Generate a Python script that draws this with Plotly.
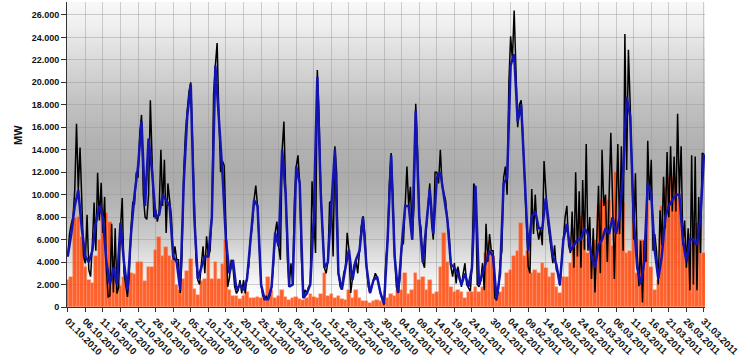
import pandas as pd
import plotly.graph_objects as go

START = "2010-10-01"

# Black series: two readings per day (00:00 and 12:00), MW, 01.10.2010 - 31.03.2011
black_mw = [
    4500, 6500, 7400, 8000, 10400, 16300, 10400, 14200, 9500, 4500,
    3900, 8200, 3300, 2700, 5500, 9300, 5000, 11950, 7700, 11050,
    6600, 9800, 3300, 900, 1000, 7400, 1300, 7000, 1200, 1800,
    7000, 9700, 3000, 1800, 900, 2800, 7000, 9300, 9200, 12000,
    11500, 15500, 17100, 10000, 8000, 7800, 10000, 18400, 13000, 8000,
    8700, 7600, 8500, 14000, 9000, 13100, 6600, 11000, 9500, 8000,
    4200, 5400, 4200, 4200, 1250, 4500, 12000, 15500, 17500, 19200,
    20000, 14000, 7800, 4200, 2400, 2000, 3800, 5400, 3000, 6300,
    4500, 5000, 8200, 19000, 21500, 23500, 17000, 12000, 13000, 12600,
    7200, 1800, 2600, 4200, 3600, 1800, 1200, 1500, 2400, 1200,
    2400, 1200, 2700, 3600, 6000, 7200, 9550, 10800, 8960, 6000,
    2000, 1000, 650, 1000, 650, 1000, 1800, 3600, 6600, 7600,
    5400, 4200, 14000, 16500, 10000, 4200, 1800, 3900, 2000, 9550,
    12500, 13500, 11000, 4200, 800, 1540, 1200, 1800, 2000, 11200,
    8000, 4800, 21100, 17000, 10000, 6000, 3500, 3000, 4000, 9300,
    9400, 4500, 14300, 12000, 3000, 1800, 1550, 3000, 3500, 6600,
    5100, 1250, 2400, 3800, 4200, 3000, 5000, 7200, 8100, 6500,
    3600, 1800, 1250, 1800, 2400, 3000, 2700, 1800, 1200, 650,
    200, 4200, 6000, 11000, 13700, 10000, 4500, 1800, 1250, 2500,
    5400, 5700, 9000, 12500, 9000, 10700, 6000, 9000, 18100, 14000,
    8000, 7000, 4000, 3500, 7000, 9000, 11000, 7500, 6000, 12000,
    12000, 11000, 14000, 10800, 10100, 9500, 7700, 6500, 3600, 2700,
    3900, 2100, 3600, 2500, 1800, 3000, 3900, 2000, 1700, 1400,
    3500, 11000, 10500, 2000, 1800, 2300, 3900, 1500, 7400, 4000,
    6500, 5000, 5000, 800, 600, 1500, 4000, 5000, 11500, 12500,
    10000, 20000, 24100, 22000, 26400, 20000, 16000, 18000, 18400, 15000,
    11000, 7200, 3600, 3000, 10500, 6500, 10000, 7000, 6000, 7000,
    5500, 13000, 10000, 7800, 6500, 5100, 3900, 5500, 3300, 3000,
    1900, 4000, 6500, 8000, 9000, 5500, 4800, 8500, 3500, 12000,
    4500, 10300, 3500, 11300, 5100, 14500, 5000, 8000, 2500, 7000,
    1300, 5500, 10800, 3000, 14000, 9000, 10000, 4000, 9000, 15500,
    9500, 2500, 9000, 14500, 6500, 14300, 5000, 24300, 12200, 22900,
    18100, 13100, 6000, 11900, 4800, 1840, 5900, 400, 5900, 4000,
    14800, 9500, 13100, 5000, 6500, 5000, 2000, 8600, 5500, 11600,
    7000, 13800, 8000, 14300, 8500, 13400, 8500, 17200, 10000, 14300,
    5500, 7700, 3500, 7000, 1500, 13500, 2000, 13400, 1500, 9800,
    4800, 13700, 13600,
]

# Blue series: one reading per day, MW
blue_mw = [
    4500, 6500, 9000, 10400, 7000, 4500, 4000, 5000, 7500, 9000,
    8000, 4000, 2000, 3500, 2000, 7500, 4000, 1500, 6500, 10000,
    12500, 16500, 9000, 15000, 12000, 8000, 8200, 10000, 9500, 9000,
    4500, 4000, 1500, 11000, 17000, 19800, 8000, 2500, 3500, 4500,
    4500, 8000, 21500, 17000, 12000, 6000, 3000, 4200, 1500, 2000,
    1500, 2500, 6000, 9500, 9000, 2000, 700, 700, 1800, 6600,
    5400, 14000, 10000, 1800, 2000, 12500, 11000, 800, 1200, 2000,
    8000, 20500, 10000, 3500, 4000, 9400, 14000, 3000, 1550, 3500,
    5100, 2400, 4200, 5000, 8000, 3600, 1250, 2400, 2700, 1200,
    300, 6000, 13500, 4500, 1250, 5400, 9000, 9000, 6000, 17500,
    8000, 4000, 7000, 10500, 6500, 11500, 12000, 10000, 7800, 3800,
    3500, 3000, 2000, 3000, 1800, 3500, 10800, 2000, 3000, 4000,
    5000, 4500, 700, 3000, 11000, 11500, 21500, 22500, 16500, 18000,
    11000, 5000, 8000, 8500, 7000, 7000, 9700, 7000, 4500, 3800,
    2000, 6000, 7400, 5000, 5500, 6000, 6000, 7000, 6500, 4500,
    3500, 5500, 6000, 7000, 6500, 8000, 6500, 8000, 12000, 18700,
    17000, 8000, 3500, 2000, 4000, 11000, 10000, 5000, 2500, 4500,
    8000, 9000, 9500, 10000, 10000, 6000, 4000, 6000, 6000, 5500,
    8000, 13600,
]

# Orange bars: one value per day, MW
orange_mw = [
    2400, 2700, 7900, 8000, 6200, 3600, 2400, 2100, 4500, 6000,
    8500, 8400, 7600, 4500, 3600, 1900, 2700, 2100, 3000, 2900,
    4000, 4000, 2300, 3600, 3600, 5100, 6200, 4500, 5300, 4500,
    4200, 2000, 1500, 2500, 3200, 4300, 1600, 1100, 2300, 2500,
    4800, 2500, 4000, 2500, 3800, 6000, 1500, 1000, 1000, 700,
    1000, 1300, 800, 800, 900, 800, 1000, 2700, 1500, 800,
    1000, 1500, 900, 600, 800, 900, 700, 600, 800, 1200,
    900, 800, 1200, 3000, 1000, 1200, 800, 1000, 700, 650,
    1500, 800, 1500, 800, 500, 500, 400, 500, 600, 500,
    400, 800, 1200, 1000, 1500, 1500, 3000, 1200, 1500, 3000,
    2400, 2700, 1500, 2400, 1200, 1300, 3600, 6580, 4000, 1800,
    1300, 1500, 1300, 800, 1300, 1300, 1800, 1300, 1800, 4800,
    5900, 4500, 650, 1300, 1800, 3000, 3300, 4500, 5000, 7500,
    4500, 5000, 3000, 3300, 3000, 3900, 3500, 2700, 3000, 1800,
    1240, 2700, 2700, 3900, 7000, 5400, 8060, 6000, 4800, 3900,
    6000, 9000, 9500, 9800, 9500, 5400, 12000, 7760, 9240, 4800,
    5000, 9500, 3000, 5980, 6000, 9240, 3600, 1540, 2400, 9000,
    10700, 11600, 11600, 11600, 10000, 6500, 5400, 6500, 8500, 7500,
    7500, 4800,
]

tick_dates = (
    list(pd.date_range("2010-10-01", "2011-01-24", freq="5D"))
    + [pd.Timestamp("2011-01-30")]
    + list(pd.date_range("2011-02-04", "2011-03-31", freq="5D"))
)
tick_labels = [d.strftime("%d.%m.%Y") for d in tick_dates]
y_ticks = list(range(0, 26001, 2000))

x_half = pd.date_range(START, periods=len(black_mw), freq="12h")
x_day = pd.date_range(START, periods=len(blue_mw), freq="D")

fig = go.Figure()
fig.add_trace(go.Scatter(x=x_half, y=black_mw, mode="lines",
                         line=dict(color="#000000", width=1.5), name="black"))
fig.add_trace(go.Scatter(x=x_day, y=blue_mw, mode="lines",
                         line=dict(color="#1414b0", width=2.5), name="blue"))
fig.add_trace(go.Bar(x=x_day, y=orange_mw, name="orange",
                     marker=dict(color="rgba(255,64,0,0.82)",
                                 line=dict(color="rgba(255,150,110,0.9)", width=0.5))))

# vertical background gradient (plot area pixel rows from top)
stops = [(0, 248), (25, 238), (60, 216), (100, 194), (140, 178), (175, 172),
         (205, 182), (235, 204), (260, 228), (280, 246), (295, 255), (305, 255)]
def shade(p):
    for (p0, c0), (p1, c1) in zip(stops[:-1], stops[1:]):
        if p0 <= p <= p1:
            return c0 + (c1 - c0) * (p - p0) / (p1 - p0)
    return stops[-1][1]

H = 305
shapes = []
step = 3
for p in range(0, H, step):
    c = int(round(shade(p + step / 2)))
    shapes.append(dict(type="rect", xref="x domain", yref="y domain",
                       x0=0, x1=1, y0=1 - (p + step) / H, y1=1 - p / H,
                       fillcolor=f"rgb({c},{c},{c})", line=dict(width=0),
                       layer="below"))

font_fam = "Liberation Sans, Arial, sans-serif"
x0 = pd.Timestamp(START) - pd.Timedelta(hours=5)
x1 = pd.Timestamp(START) + pd.Timedelta(hours=int(181.3 * 24))

fig.update_layout(
    width=750, height=364, autosize=False,
    margin=dict(l=67, r=45, t=2, b=57),
    paper_bgcolor="white", plot_bgcolor="rgba(0,0,0,0)",
    separators=",.",
    showlegend=False, bargap=0,
    shapes=shapes,
    font=dict(family=font_fam, color="#111"),
    annotations=[dict(text="MW", xref="paper", yref="paper",
                      x=(18 - 67) / 638, y=(307 - 135) / 305,
                      xanchor="center", yanchor="middle",
                      showarrow=False, textangle=-90,
                      font=dict(size=11, weight="bold", color="#111"))],
)
fig.update_xaxes(type="date", range=[x0, x1], tickvals=tick_dates, ticktext=tick_labels,
                 tickangle=45, ticks="outside", ticklen=4, tickcolor="#333",
                 showline=True, linecolor="#333", linewidth=1, automargin=False,
                 showgrid=True, gridcolor="rgba(150,150,150,0.45)", gridwidth=1,
                 tickfont=dict(size=9.5, weight="bold", family=font_fam, color="#111"),
                 zeroline=False)
fig.update_yaxes(range=[0, 27150], tickvals=y_ticks, tickformat=",.0f",
                 ticks="outside", ticklen=5, tickcolor="#333",
                 showline=True, linecolor="#333", linewidth=1, automargin=False,
                 showgrid=True, gridcolor="rgba(150,150,150,0.45)", gridwidth=1,
                 tickfont=dict(size=9, weight="bold", family=font_fam, color="#111"),
                 zeroline=False)

fig.write_html("out.html", config={"displayModeBar": False},
               post_script="document.body.style.margin='0';document.body.style.overflow='hidden';")
